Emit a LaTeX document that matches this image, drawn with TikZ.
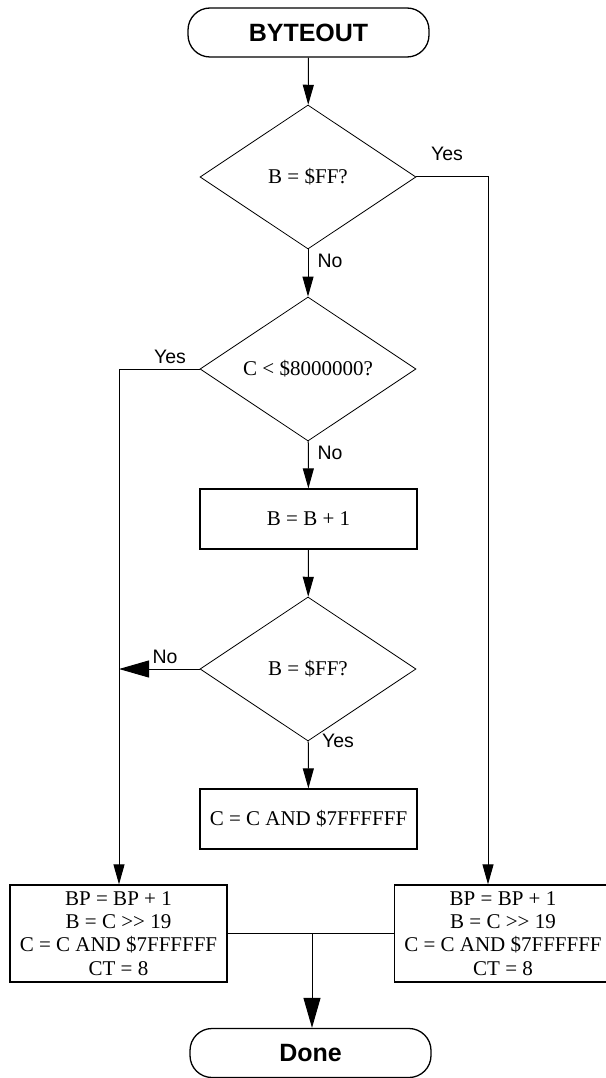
\documentclass[tikz,border=0pt]{standalone}
\usepackage{fontspec}
\setmainfont{Liberation Serif}
\setsansfont{Liberation Sans}
\usetikzlibrary{shapes.geometric}
\usetikzlibrary{arrows.meta}
\usetikzlibrary{calc}

\begin{document}
\begin{tikzpicture}[x=1pt,y=-1pt]
      \tikzstyle{edge}  = [draw=black, line width=1pt]
      \tikzstyle{dedge} = [->,>={Triangle[length=20pt,width=11pt]},draw=black,line width=1pt]
      \tikzstyle{bigedge} = [->,>={Triangle[length=30pt,width=17pt]},draw=black,line width=1pt]
      \tikzstyle{term}=[
        draw,
        rectangle,
        rounded corners=22pt,
        line width=1.3pt,
        minimum width=241pt,
        minimum height=49pt,
        font=\sffamily\bfseries\fontsize{25}{30}\selectfont,
      ]
      \tikzstyle{block}=[
        draw,
        rectangle,
        line width=1.3pt,
        minimum width=217pt,
        minimum height=60pt,
        inner sep=0pt,
        align=center,
        font=\fontsize{21}{23.3}\selectfont,
      ]
      \tikzstyle{decision}=[
        draw,
        diamond,
        aspect=1.5,
        line width=0.8pt,
        minimum width=216pt,
        minimum height=144pt,
        inner sep=0pt,
        font=\fontsize{21}{24}\selectfont,
      ]
      \tikzstyle{answer}=[inner sep=0pt, font=\sffamily\fontsize{19.5}{23}\selectfont]

      \useasboundingbox (0,0) rectangle (605,1078);

      \node[term] (start) at (308.5,32.5) {BYTEOUT};
      \node[decision] (d1) at (308,177) {B = \$FF?};
      \node[decision] (d2) at (308,369) {C < \$8000000?};
      \node[block] (inc) at (308.5,519) {B = B + 1};
      \node[decision] (d3) at (308,669) {B = \$FF?};
      \node[block] (mask) at (308.5,819) {C = C AND \$7FFFFFF};
      \node[block, minimum height=97pt] (lbox) at (118.5,933.5) {BP = BP + 1\\B = C >{}> 19\\C = C AND \$7FFFFFF\\CT = 8};
      \node[block, minimum height=97pt] (rbox) at (503,933.5) {BP = BP + 1\\B = C >{}> 19\\C = C AND \$7FFFFFF\\CT = 8};
      \node[term] (done) at (310.5,1053) {Done};

      \node[answer] (y1) at (447,154) {Yes};
      \node[answer] (n1) at (330,261) {No};
      \node[answer] (y2) at (170,357) {Yes};
      \node[answer] (n2) at (330,453) {No};
      \node[answer] (n3) at (165,657) {No};
      \node[answer] (y3) at (338,741) {Yes};

      \coordinate (r1) at (488,177);
      \coordinate (l1) at (119,369);
      \coordinate (j) at (312,933.5);

      \draw[dedge] (start)--(d1);
      \draw[dedge] (d1)--(d2);
      \draw[dedge] (d2)--(inc);
      \draw[dedge] (inc)--(d3);
      \draw[dedge] (d3)--(mask);
      \draw[dedge] (d1.east)--(r1)--(r1 |- rbox.north);
      \draw[dedge] (d2.west)--(l1)--(l1 |- lbox.north);
      \draw[bigedge] (d3.west)--(d3.west -| l1);
      \draw[edge] (lbox.east)--(rbox.west);
      \draw[bigedge] (j)--(j |- done.north);
    \end{tikzpicture}
\end{document}
